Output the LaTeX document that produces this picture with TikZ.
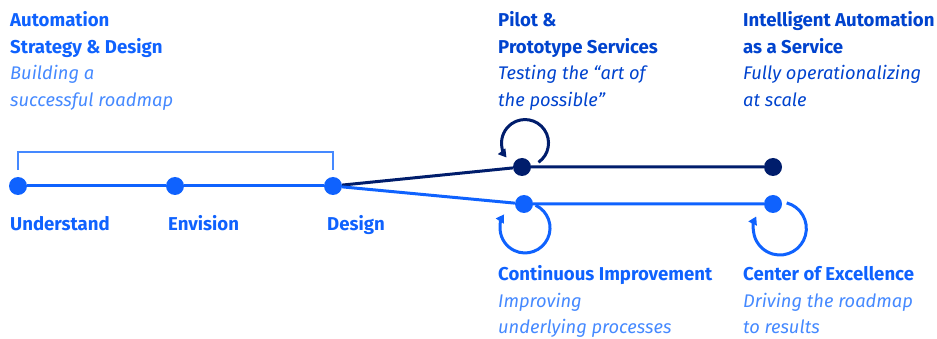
\documentclass[tikz,border=0pt]{standalone}
\usepackage{fontspec}
\setmainfont{Fira Sans}
\usetikzlibrary{arrows.meta,calc}

\definecolor{ibmblue}{HTML}{0F62FE}
\definecolor{ibmlight}{HTML}{4589FF}
\definecolor{ibmdeep}{HTML}{0043CE}
\definecolor{ibmnavy}{HTML}{001D6C}

\tikzset{
  dot/.style={circle, fill=#1, minimum size=18pt, inner sep=0pt},
  track/.style={line width=3pt, draw=#1},
  bracket/.style={line width=1.4pt, draw=ibmlight},
  cycle/.style={line width=3pt, draw=#1, -{Triangle[length=8pt,width=9pt]}},
  head/.style={anchor=base west, inner sep=0pt, text=#1, font=\fontsize{18.6}{22}\selectfont\bfseries},
  sub/.style={anchor=base west, inner sep=0pt, text=#1, font=\fontsize{18.3}{22}\selectfont\itshape},
}

\begin{document}
\begin{tikzpicture}[x=1pt,y=1pt]
\useasboundingbox (0,0) rectangle (937,-339);

% milestones
\node[dot=ibmblue] (und) at (18,-186) {};
\node[dot=ibmblue] (env) at (175,-186) {};
\node[dot=ibmblue] (des) at (333,-186) {};
\node[dot=ibmnavy] (pilot) at (522,-167) {};
\node[dot=ibmnavy] (iaas) at (773,-167) {};
\node[dot=ibmblue] (ci) at (524,-204) {};
\node[dot=ibmblue] (coe) at (773,-204) {};

% tracks
\draw[track=ibmblue] (und) -- (env) -- (des);
\draw[track=ibmnavy] (des) -- (pilot) -- (iaas);
\draw[track=ibmblue] (des) -- (ci) -- (coe);

% bracket over the strategy phase
\draw[bracket] ([yshift=16pt]und.center) -- ([yshift=34pt]und.center) -| ([yshift=16pt]des.center);

% iteration loops
\draw[cycle=ibmnavy] ($(pilot)+(16.5,4.7)$) arc[start angle=-55, end angle=218, radius=23.5];
\draw[cycle=ibmblue] ($(ci)+(11.6,-1.3)$) arc[start angle=65, end angle=-213, radius=25];
\draw[cycle=ibmblue] ($(coe)+(13.7,1.1)$) arc[start angle=75, end angle=-207, radius=26.5];

% phase labels
\node[head=ibmblue] (lund) at (10,-231) {Understand};
\node[head=ibmblue] (lenv) at (168,-231) {Envision};
\node[head=ibmblue] (ldes) at (327,-231) {Design};

% strategy & design
\node[head=ibmblue] (asd1) at (10,-27) {Automation};
\node[head=ibmblue] (asd2) at (10,-54) {Strategy \& Design};
\node[sub=ibmlight] (asd3) at (10,-80) {Building a};
\node[sub=ibmlight] (asd4) at (10,-107) {successful roadmap};

% pilot & prototype
\node[head=ibmdeep] (pp1) at (498,-27) {Pilot \&};
\node[head=ibmdeep] (pp2) at (498,-54) {Prototype Services};
\node[sub=ibmdeep] (pp3) at (498,-80) {Testing the “art of};
\node[sub=ibmdeep] (pp4) at (498,-107) {the possible”};

% intelligent automation as a service
\node[head=ibmdeep] (ia1) at (743,-27) {Intelligent Automation};
\node[head=ibmdeep] (ia2) at (743,-54) {as a Service};
\node[sub=ibmdeep] (ia3) at (743,-80) {Fully operationalizing};
\node[sub=ibmdeep] (ia4) at (743,-107) {at scale};

% continuous improvement
\node[head=ibmblue] (ci1) at (498,-280) {Continuous Improvement};
\node[sub=ibmlight] (ci2) at (498,-307) {Improving};
\node[sub=ibmlight] (ci3) at (498,-333) {underlying processes};

% center of excellence
\node[head=ibmblue] (ce1) at (743,-280) {Center of Excellence};
\node[sub=ibmlight] (ce2) at (743,-307) {Driving the roadmap};
\node[sub=ibmlight] (ce3) at (743,-333) {to results};
\end{tikzpicture}
\end{document}
